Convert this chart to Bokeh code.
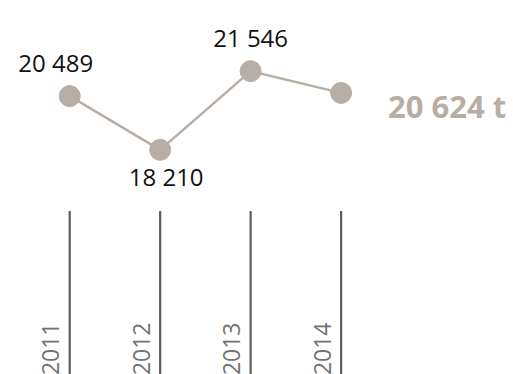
import math
from bokeh.plotting import figure
from bokeh.models import Range1d, ColumnDataSource
from bokeh.core.properties import value
from bokeh.embed import file_html
from bokeh.resources import INLINE

# ---- data ----
years = [2011, 2012, 2013, 2014]
tonnes = [20489, 18210, 21546, 20624]
value_labels = ["20 489", "18 210", "21 546"]
label_side = ["above", "below", "above"]
total_label = "20 624 t"
year_labels = ["2011", "2012", "2013", "2014"]

POINT = "#b7aea5"
TICK = "#5e5e5e"

p = figure(width=513, height=374, output_backend="svg", toolbar_location=None,
           x_range=Range1d(2010.2351, 2015.9055), y_range=Range1d(8687, 24541),
           min_border=0, min_border_left=0, min_border_right=0,
           min_border_top=0, min_border_bottom=0)
p.axis.visible = False
p.grid.visible = False
p.outline_line_color = None
p.extra_y_ranges = {"px": Range1d(374, 0)}

# vertical year ticks
p.segment(x0=years, y0=[210.5] * 4, x1=years, y1=[374] * 4,
          line_color=TICK, line_width=2.2, y_range_name="px")

# year labels (rotated)
p.text(x=years, y=[322] * 4, text=year_labels, angle=math.pi / 2,
       text_align="right", text_baseline="alphabetic", x_offset=-19, y_offset=0,
       text_font=value("Open Sans"), text_font_size="23px",
       text_color="#737373", y_range_name="px")

# series line and points
p.line(years, tonnes, line_color=POINT, line_width=2.5)
p.scatter(years, tonnes, size=21, fill_color=POINT, line_color=POINT)

# value labels
xoff = [-14, 6, 0]
yoff = [-34 if s == "above" else 27 for s in label_side]
src = ColumnDataSource(dict(x=years[:3], y=tonnes[:3], t=value_labels, xo=xoff, yo=yoff))
p.text(x="x", y="y", text="t", x_offset="xo", y_offset="yo", source=src,
       text_align="center", text_baseline="middle",
       text_font=value("Open Sans"), text_font_size="24px", text_color="#111111")

# big total label
p.text(x=[years[-1]], y=[tonnes[-1]], text=[total_label], x_offset=47, y_offset=13,
       text_align="left", text_baseline="middle",
       text_font=value("Open Sans"), text_font_style="bold",
       text_font_size="31px", text_color=POINT)

open("out.html", "w").write(file_html(p, INLINE))
